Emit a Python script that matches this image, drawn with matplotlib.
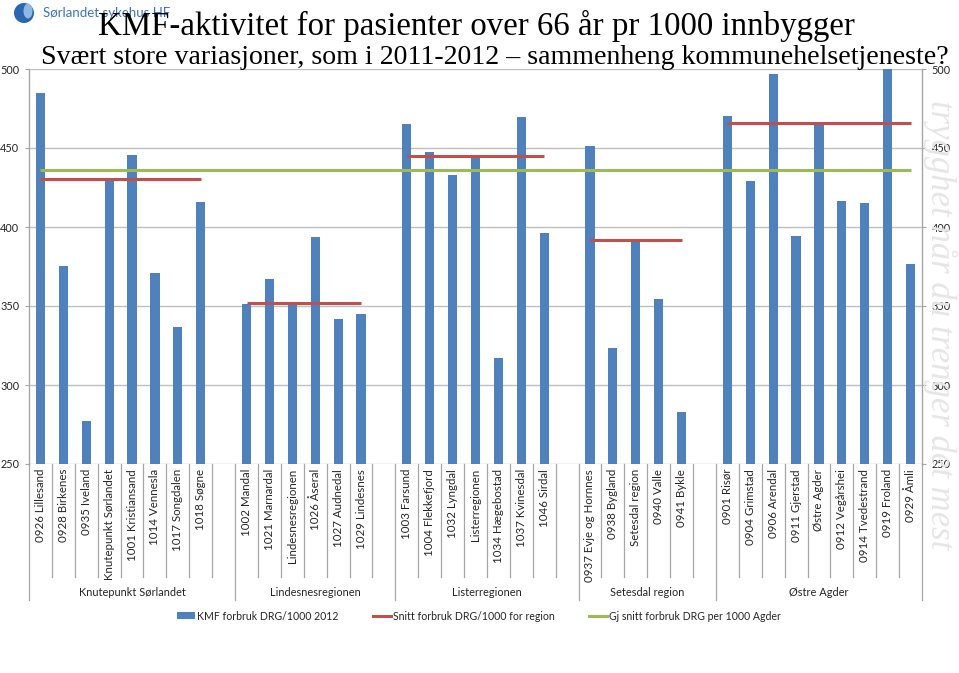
import matplotlib
matplotlib.use("Agg")
import matplotlib.pyplot as plt
from matplotlib.patches import Patch, Ellipse
from matplotlib.lines import Line2D
import numpy as np

# ---------------- data ----------------
group_names = ["Knutepunkt Sørlandet", "Lindesnesregionen", "Listerregionen",
               "Setesdal region", "Østre Agder"]
group_members = [
    ["0926 Lillesand", "0928 Birkenes", "0935 Iveland", "Knutepunkt Sørlandet",
     "1001 Kristiansand", "1014 Vennesla", "1017 Songdalen", "1018 Søgne"],
    ["1002 Mandal", "1021 Marnardal", "Lindesnesregionen", "1026 Åseral",
     "1027 Audnedal", "1029 Lindesnes"],
    ["1003 Farsund", "1004 Flekkefjord", "1032 Lyngdal", "Listerregionen",
     "1034 Hægebostad", "1037 Kvinesdal", "1046 Sirdal"],
    ["0937 Evje og Hornnes", "0938 Bygland", "Setesdal region", "0940 Valle",
     "0941 Bykle"],
    ["0901 Risør", "0904 Grimstad", "0906 Arendal", "0911 Gjerstad", "Østre Agder",
     "0912 Vegårshei", "0914 Tvedestrand", "0919 Froland", "0929 Åmli"],
]
group_values = [
    [484.6, 375.5, 277.0, 430.4, 445.8, 370.7, 336.7, 415.8],
    [351.3, 367.1, 351.9, 393.7, 341.6, 345.0],
    [465.0, 447.7, 433.1, 445.1, 316.9, 469.8, 396.2],
    [451.1, 323.6, 391.8, 354.6, 282.9],
    [470.3, 429.1, 497.0, 394.5, 465.8, 416.7, 415.4, 503.0, 376.6],
]
region_avg = [430.4, 351.9, 445.1, 391.8, 465.8]
agder_avg = 436.1

series_bar = "KMF forbruk DRG/1000 2012"
series_region = "Snitt forbruk DRG/1000 for region"
series_agder = "Gj snitt forbruk DRG per 1000 Agder"
title1 = "KMF-aktivitet for pasienter over 66 år pr 1000 innbygger"
title2 = "Svært store variasjoner, som i 2011-2012 – sammenheng kommunehelsetjeneste?"
yticks = [250, 300, 350, 400, 450, 500]

# ---------------- build slots ----------------
labels, values, red = [], [], []
group_slots = []
for gi, (mem, vals) in enumerate(zip(group_members, group_values)):
    start = len(labels)
    labels += mem
    values += vals
    red += [region_avg[gi]] * len(mem)
    if gi < len(group_members) - 1:
        labels.append("")
        values.append(np.nan)
        red.append(np.nan)
    group_slots.append((start, len(labels)))
n = len(labels)
x = np.arange(n)
values = np.array(values, dtype=float)
red = np.array(red, dtype=float)

BLUE = "#4F81BD"
RED = "#C0504D"
GREEN = "#9BBB59"
GRID = "#BFBFBF"
AX = "#A6A6A6"
TXT = "#262626"
LBL_FONT = ["Lato", "DejaVu Sans"]

W, H = 959, 673
fig = plt.figure(figsize=(W / 100, H / 100), dpi=100)
fig.patch.set_facecolor("white")

# watermark (drawn first, behind everything)
fig.text(940 / W, 1 - 325 / H, "trygghet når du trenger det mest", rotation=-90,
         ha="center", va="center", fontsize=25, color="#E6E6E6",
         family="Liberation Serif", style="italic", zorder=0)

L, R, T, B = 29, 922, 69, 464
ax = fig.add_axes([L / W, 1 - B / H, (R - L) / W, (B - T) / H])
ax.patch.set_alpha(0)

ax.bar(x, values, width=0.40, color=BLUE, zorder=3)
for (s, e), ra in zip(group_slots, region_avg):
    mem_idx = [i for i in range(s, e) if labels[i] != ""]
    ax.plot(mem_idx, red[mem_idx], color=RED, lw=2.2, zorder=4, solid_capstyle="butt")
ax.plot([0, n - 1], [agder_avg, agder_avg], color=GREEN, lw=2.2, zorder=4,
        solid_capstyle="butt")

ax.set_xlim(-0.5, n - 0.5)
ax.set_ylim(250, 500)
ax.set_yticks(yticks)
ax.yaxis.grid(True, color=GRID, lw=1, zorder=0)
ax.set_xticks([])
ax.tick_params(axis="y", which="both", left=True, right=True, labelleft=True,
               labelright=True, length=3, color=AX, labelsize=7.8, labelcolor=TXT,
               pad=4)
for lab in ax.get_yticklabels():
    lab.set_family(LBL_FONT)
for sp in ["top", "bottom"]:
    ax.spines[sp].set_visible(False)
for sp in ["left", "right"]:
    ax.spines[sp].set_color(AX)
    ax.spines[sp].set_linewidth(1)

# ---------------- multi-level category axis ----------------
tr = ax.get_xaxis_transform()
ah = B - T
def ay(py):
    return -(py - B) / ah

group_bounds = set([s - 0.5 for s, e in group_slots] + [n - 0.5])
for i in range(n + 1):
    xb = i - 0.5
    y1 = ay(600) if xb in group_bounds else ay(577)
    ax.plot([xb, xb], [ay(B), y1], transform=tr, color=AX, lw=0.9, clip_on=False)

for i, lab in enumerate(labels):
    if lab:
        ax.text(i, ay(469), lab, transform=tr, rotation=90, ha="center", va="top",
                fontsize=8.3, color=TXT, family=LBL_FONT)
for (s, e), gname in zip(group_slots, group_names):
    ax.text((s - 0.5 + e - 0.5) / 2, ay(593), gname, transform=tr, ha="center",
            va="center", fontsize=7.9, color=TXT, family=LBL_FONT)

# ---------------- legend ----------------
handles = [Patch(facecolor=BLUE, edgecolor="none"),
           Line2D([], [], color=RED, lw=2.2),
           Line2D([], [], color=GREEN, lw=2.2)]
fig.legend(handles, [series_bar, series_region, series_agder], loc="center",
           bbox_to_anchor=(479 / W, 1 - 616 / H), ncol=3, frameon=False,
           prop={"family": LBL_FONT, "size": 7.6}, handlelength=1.7,
           handleheight=0.6, handletextpad=0.25, columnspacing=3.2,
           labelcolor=TXT)

# ---------------- titles ----------------
fig.text(476 / W, 1 - 35 / H, title1, ha="center", va="baseline",
         family="Liberation Serif", fontsize=23.7, color="black")
fig.text(495 / W, 1 - 64 / H, title2, ha="center", va="baseline",
         family="Liberation Serif", fontsize=20.1, color="black")

# ---------------- logo ----------------
fig.patches.append(Ellipse((24 / W, 1 - 13 / H), 20 / W, 20 / H,
                           transform=fig.transFigure, facecolor="#2B66B1",
                           edgecolor="none", zorder=0))
fig.patches.append(Ellipse((28 / W, 1 - 11 / H), 9 / W, 15 / H,
                           transform=fig.transFigure, facecolor="#8DB8E2",
                           edgecolor="none", zorder=0))
fig.text(43 / W, 1 - 13 / H, "Sørlandet sykehus HF", ha="left", va="center",
         fontsize=9.5, color="#3B73B9", family=LBL_FONT, zorder=0)

fig.savefig("out.png", dpi=100)
